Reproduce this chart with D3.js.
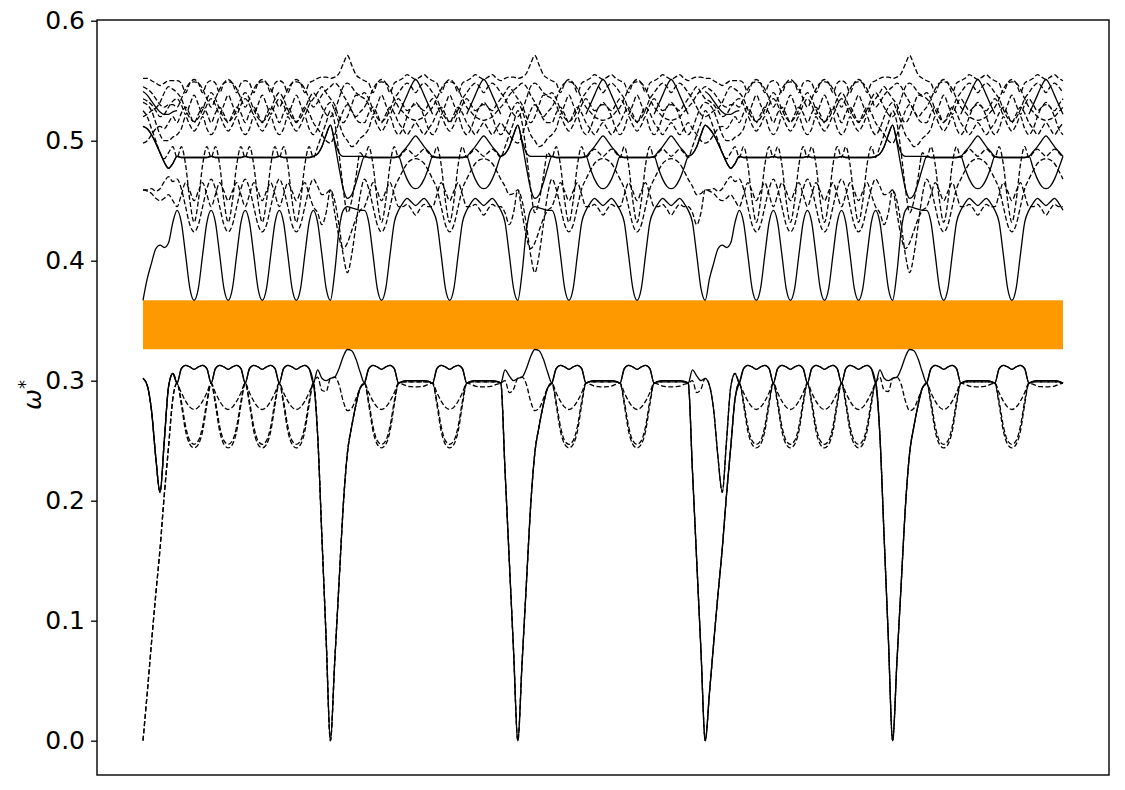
<!DOCTYPE html>
<html><head><meta charset="utf-8">
<script src="https://cdn.jsdelivr.net/npm/d3@7"></script>
<style>
html,body{margin:0;padding:0;background:#fff;}
svg{display:block;}
text{font-family:"DejaVu Sans",sans-serif;}
</style></head><body>
<svg id="chart" width="1125" height="790"></svg>
<script>
// ================= DATA =================
// k-path: sequence of segment types (S = from zone centre, C = folded cell, F = flat cell,
// D / H = run into a zone-centre cusp, R = run out of a cusp). S0 = very first segment.
const kPath = ["S0","C","C","C","C","D",
               "R","C","F","C","F","H",
               "R","C","F","C","F","H",
               "S","C","C","C","C","D",
               "R","C","F","C","F"];
const segmentLength = {S0:1, S:1, C:1, F:1, R:1, D:0.5, H:0.5};
const sampleStep = 0.125;
const gapBand = [0.3262, 0.367];
const yTicks = [0.0, 0.1, 0.2, 0.3, 0.4, 0.5, 0.6];

// --- band values (omega*), per segment type ---
const bandA0 = { // acoustic branch
  S:[0,0.04,0.082,0.122,0.16,0.205,0.245,0.285,0.298],
  C:[0.298,0.283,0.262,0.25,0.247,0.25,0.262,0.283,0.298],
  F:[0.298,0.299,0.299,0.299,0.299,0.299,0.299,0.299,0.298],
  D:[0.298,0.255,0.17,0.085,0],
  R:[0,0.065,0.13,0.195,0.24,0.262,0.28,0.294,0.298],
  H:[0.298,0.225,0.15,0.075,0]};
const bandA1 = {
  S0:[0.302,0.296,0.275,0.236,0.207,0.25,0.295,0.306,0.298],
  S:[0,0.04,0.082,0.122,0.16,0.205,0.245,0.285,0.298],
  C:[0.298,0.31,0.3128,0.3115,0.3095,0.3115,0.3128,0.31,0.298],
  F:[0.298,0.2995,0.3,0.3,0.3,0.3,0.3,0.2995,0.298],
  D:[0.298,0.255,0.17,0.085,0],
  R:[0,0.065,0.13,0.195,0.24,0.262,0.28,0.294,0.298],
  H:[0.298,0.225,0.15,0.075,0]};
const bandL1 = {
  S:[0.302,0.296,0.275,0.236,0.207,0.25,0.295,0.306,0.298],
  C:[0.298,0.31,0.3128,0.3115,0.3095,0.3115,0.3128,0.31,0.298],
  F:[0.298,0.2995,0.3,0.3,0.3,0.3,0.3,0.2995,0.298],
  D:[0.298,0.309,0.302,0.3,0.302],
  R:[0.302,0.303,0.31,0.32,0.326,0.325,0.318,0.307,0.298],
  H:[0.298,0.309,0.304,0.3,0.302]};
const bandL2 = {
  S:[0.302,0.296,0.275,0.236,0.207,0.25,0.295,0.306,0.298],
  C:[0.298,0.29,0.283,0.278,0.276,0.278,0.283,0.29,0.298],
  F:[0.298,0.297,0.2955,0.295,0.2948,0.295,0.2955,0.297,0.298],
  D:[0.298,0.303,0.292,0.291,0.302],
  R:[0.302,0.303,0.297,0.283,0.275,0.277,0.285,0.294,0.298],
  H:[0.298,0.3,0.29,0.293,0.302]};
const bandL3 = {
  S:[0,0.04,0.082,0.122,0.16,0.205,0.245,0.285,0.298],
  C:[0.298,0.28,0.258,0.247,0.244,0.247,0.258,0.28,0.298],
  F:[0.298,0.299,0.299,0.299,0.299,0.299,0.299,0.299,0.298],
  D:[0.298,0.255,0.17,0.085,0],
  R:[0,0.065,0.13,0.195,0.24,0.262,0.28,0.294,0.298],
  H:[0.298,0.225,0.15,0.075,0]};
const bandU1 = {
  S:[0.367,0.385,0.398,0.41,0.413,0.411,0.415,0.432,0.442],
  C:[0.442,0.432,0.405,0.377,0.367,0.377,0.405,0.432,0.442],
  F:[0.442,0.448,0.452,0.449,0.446,0.449,0.452,0.448,0.442],
  D:[0.442,0.432,0.405,0.377,0.367],
  R:[0.367,0.39,0.425,0.442,0.445,0.444,0.443,0.442,0.442],
  H:[0.442,0.432,0.405,0.377,0.367]};
const bandU2 = {
  S:[0.459,0.459,0.46,0.458,0.46,0.466,0.47,0.466,0.468],
  C:[0.468,0.46,0.445,0.43,0.424,0.43,0.445,0.46,0.468],
  F:[0.468,0.475,0.481,0.484,0.485,0.484,0.481,0.475,0.468],
  D:[0.468,0.462,0.455,0.456,0.459],
  R:[0.459,0.45,0.43,0.405,0.39,0.405,0.43,0.455,0.468],
  H:[0.468,0.462,0.455,0.456,0.459]};
const bandU3 = {
  S:[0.525,0.52,0.51,0.5,0.49,0.485,0.49,0.495,0.486],
  C:[0.486,0.495,0.48,0.45,0.432,0.45,0.48,0.495,0.486],
  F:[0.486,0.49,0.493,0.49,0.487,0.49,0.493,0.49,0.486],
  D:[0.486,0.495,0.505,0.515,0.525],
  R:[0.525,0.515,0.49,0.46,0.44,0.45,0.47,0.49,0.486],
  H:[0.486,0.495,0.505,0.515,0.525]};
const bandU4 = {
  S:[0.459,0.458,0.456,0.452,0.45,0.452,0.455,0.45,0.445],
  C:[0.445,0.455,0.465,0.458,0.45,0.458,0.465,0.455,0.445],
  F:[0.445,0.445,0.447,0.443,0.438,0.443,0.447,0.445,0.445],
  D:[0.445,0.44,0.43,0.44,0.459],
  R:[0.459,0.44,0.42,0.41,0.415,0.425,0.435,0.442,0.445],
  H:[0.445,0.44,0.43,0.44,0.459]};
const bandU5 = {
  S:[0.512,0.51,0.505,0.498,0.49,0.482,0.477,0.481,0.487],
  C:[0.487,0.486,0.486,0.486,0.486,0.486,0.486,0.486,0.487],
  F:[0.487,0.491,0.495,0.5,0.504,0.5,0.495,0.491,0.487],
  D:[0.487,0.489,0.495,0.505,0.513],
  R:[0.513,0.5,0.49,0.487,0.487,0.487,0.487,0.487,0.487],
  H:[0.487,0.489,0.495,0.505,0.513]};
const bandU6 = {
  S:[0.512,0.51,0.505,0.498,0.49,0.482,0.477,0.481,0.487],
  C:[0.487,0.486,0.486,0.486,0.486,0.486,0.486,0.486,0.487],
  F:[0.487,0.477,0.468,0.462,0.46,0.462,0.468,0.477,0.487],
  D:[0.487,0.489,0.495,0.505,0.513],
  R:[0.513,0.498,0.478,0.46,0.452,0.455,0.465,0.477,0.487],
  H:[0.487,0.489,0.495,0.505,0.513]};
const bandT1 = {
  S:[0.552,0.552,0.55,0.548,0.546,0.548,0.55,0.55,0.55],
  C:[0.55,0.548,0.54,0.548,0.551,0.548,0.54,0.548,0.55],
  F:[0.55,0.552,0.555,0.553,0.551,0.553,0.555,0.552,0.55],
  D:[0.55,0.552,0.553,0.553,0.552],
  R:[0.552,0.553,0.556,0.564,0.571,0.563,0.555,0.552,0.55],
  H:[0.55,0.552,0.553,0.553,0.552]};
const bandT2 = {
  S:[0.545,0.543,0.54,0.535,0.53,0.528,0.53,0.53,0.528],
  C:[0.528,0.535,0.543,0.548,0.549,0.548,0.543,0.535,0.528],
  F:[0.528,0.524,0.52,0.518,0.517,0.518,0.52,0.524,0.528],
  D:[0.528,0.532,0.538,0.542,0.545],
  R:[0.545,0.548,0.545,0.538,0.532,0.525,0.52,0.524,0.528],
  H:[0.528,0.532,0.538,0.542,0.545]};
const bandT3 = {
  S:[0.52,0.522,0.525,0.527,0.532,0.54,0.545,0.543,0.54],
  C:[0.54,0.535,0.526,0.519,0.516,0.519,0.526,0.535,0.54],
  F:[0.54,0.545,0.548,0.545,0.54,0.545,0.548,0.545,0.54],
  D:[0.54,0.535,0.528,0.522,0.52],
  R:[0.52,0.525,0.535,0.545,0.548,0.545,0.54,0.538,0.54],
  H:[0.54,0.535,0.528,0.522,0.52]};
const bandT4 = {
  S:[0.498,0.5,0.505,0.51,0.512,0.51,0.515,0.52,0.515],
  C:[0.515,0.523,0.528,0.522,0.515,0.522,0.528,0.523,0.515],
  F:[0.515,0.51,0.505,0.51,0.515,0.51,0.505,0.51,0.515],
  D:[0.515,0.51,0.505,0.5,0.498],
  R:[0.498,0.505,0.515,0.525,0.53,0.525,0.518,0.515,0.515],
  H:[0.515,0.51,0.505,0.5,0.498]};
const bandT5 = {
  S:[0.532,0.53,0.525,0.515,0.505,0.5,0.5,0.503,0.505],
  C:[0.505,0.51,0.52,0.513,0.508,0.513,0.52,0.51,0.505],
  F:[0.505,0.51,0.52,0.528,0.53,0.528,0.52,0.51,0.505],
  D:[0.505,0.51,0.52,0.528,0.532],
  R:[0.532,0.525,0.515,0.505,0.5,0.495,0.497,0.502,0.505],
  H:[0.505,0.51,0.52,0.528,0.532]};
const bandT6 = {
  F:[0.522,0.53,0.538,0.546,0.551,0.546,0.538,0.53,0.522]};
const bandT7 = {
  S:[0.541,0.538,0.533,0.528,0.524,0.522,0.522,0.524,0.525]};
const bandT8 = {
  S:[0.535,0.533,0.53,0.525,0.52,0.522,0.528,0.533,0.535],
  C:[0.535,0.53,0.522,0.53,0.538,0.53,0.522,0.53,0.535],
  F:[0.535,0.53,0.525,0.528,0.532,0.528,0.525,0.53,0.535],
  D:[0.535,0.54,0.545,0.54,0.535],
  R:[0.535,0.53,0.52,0.515,0.52,0.53,0.538,0.537,0.535],
  H:[0.535,0.54,0.545,0.54,0.535]};

const dashedBands = [bandA0, bandL2, bandL3, bandU2, bandU3, bandU4, bandT1, bandT2, bandT3, bandT4, bandT5, bandT8];
const solidBands  = [bandA1, bandL1, bandU1, bandU5, bandU6, bandT6, bandT7];

// ================= BUILD =================
function buildBand(profile){
  const pts = [];
  let k0 = 0;
  kPath.forEach((seg, si) => {
    const vals = profile[seg] || (seg === "S0" ? profile.S : null) || null;
    const n = Math.round(segmentLength[seg] / sampleStep) + 1;
    for (let i = 0; i < n; i++){
      if (si > 0 && i === 0){
        const last = pts[pts.length - 1];
        if (last.w == null && vals) last.w = vals[0];
        continue;
      }
      pts.push({k: k0 + i * sampleStep, w: vals ? vals[i] : null});
    }
    k0 += segmentLength[seg];
  });
  return pts;
}
const kTotal = kPath.reduce((s, seg) => s + segmentLength[seg], 0);

// ================= DRAW =================
const svg = d3.select("#chart");
const M = {left: 97, top: 20, right: 1109, bottom: 775};
const kPad = kTotal * 0.05;
const x = d3.scaleLinear().domain([-kPad, kTotal + kPad]).range([M.left, M.right]);
const y = d3.scaleLinear().domain([-0.0286, 0.6006]).range([M.bottom, M.top]);

svg.append("rect").attr("x",0).attr("y",0).attr("width",1125).attr("height",790).attr("fill","#fff");

// forbidden-gap band
svg.append("rect")
  .attr("x", x(0)).attr("width", x(kTotal) - x(0))
  .attr("y", y(gapBand[1])).attr("height", y(gapBand[0]) - y(gapBand[1]))
  .attr("fill", "#ff9900");

const line = d3.line()
  .defined(d => d.w != null)
  .x(d => x(d.k)).y(d => y(d.w))
  .curve(d3.curveMonotoneX);

const gLines = svg.append("g");
dashedBands.forEach(b => {
  gLines.append("path").attr("d", line(buildBand(b)))
    .attr("fill","none").attr("stroke","#000").attr("stroke-width",1.3)
    .attr("stroke-dasharray","5,2.4");
});
solidBands.forEach(b => {
  gLines.append("path").attr("d", line(buildBand(b)))
    .attr("fill","none").attr("stroke","#000").attr("stroke-width",1.3);
});

// frame
svg.append("rect").attr("x", M.left).attr("y", M.top)
  .attr("width", M.right - M.left).attr("height", M.bottom - M.top)
  .attr("fill","none").attr("stroke","#000").attr("stroke-width",1.4);

// y axis
const yAxis = svg.append("g").attr("transform", `translate(${M.left},0)`)
  .call(d3.axisLeft(y).tickValues(yTicks).tickFormat(d3.format(".1f")).tickSize(6).tickPadding(6));
yAxis.select(".domain").remove();
yAxis.selectAll(".tick line").attr("stroke","#000").attr("stroke-width",1.3);
yAxis.selectAll(".tick text").attr("font-size", 25).attr("fill","#000")
  .attr("font-family","DejaVu Sans, sans-serif");

// y label  ω*
const yl = svg.append("text")
  .attr("transform","translate(41,395) rotate(-90)")
  .attr("text-anchor","middle").attr("font-size",25).attr("fill","#000");
yl.append("tspan").attr("font-style","italic").text("ω");
yl.append("tspan").attr("font-size",18).attr("dy",-10).text("*");
</script>
</body></html>
